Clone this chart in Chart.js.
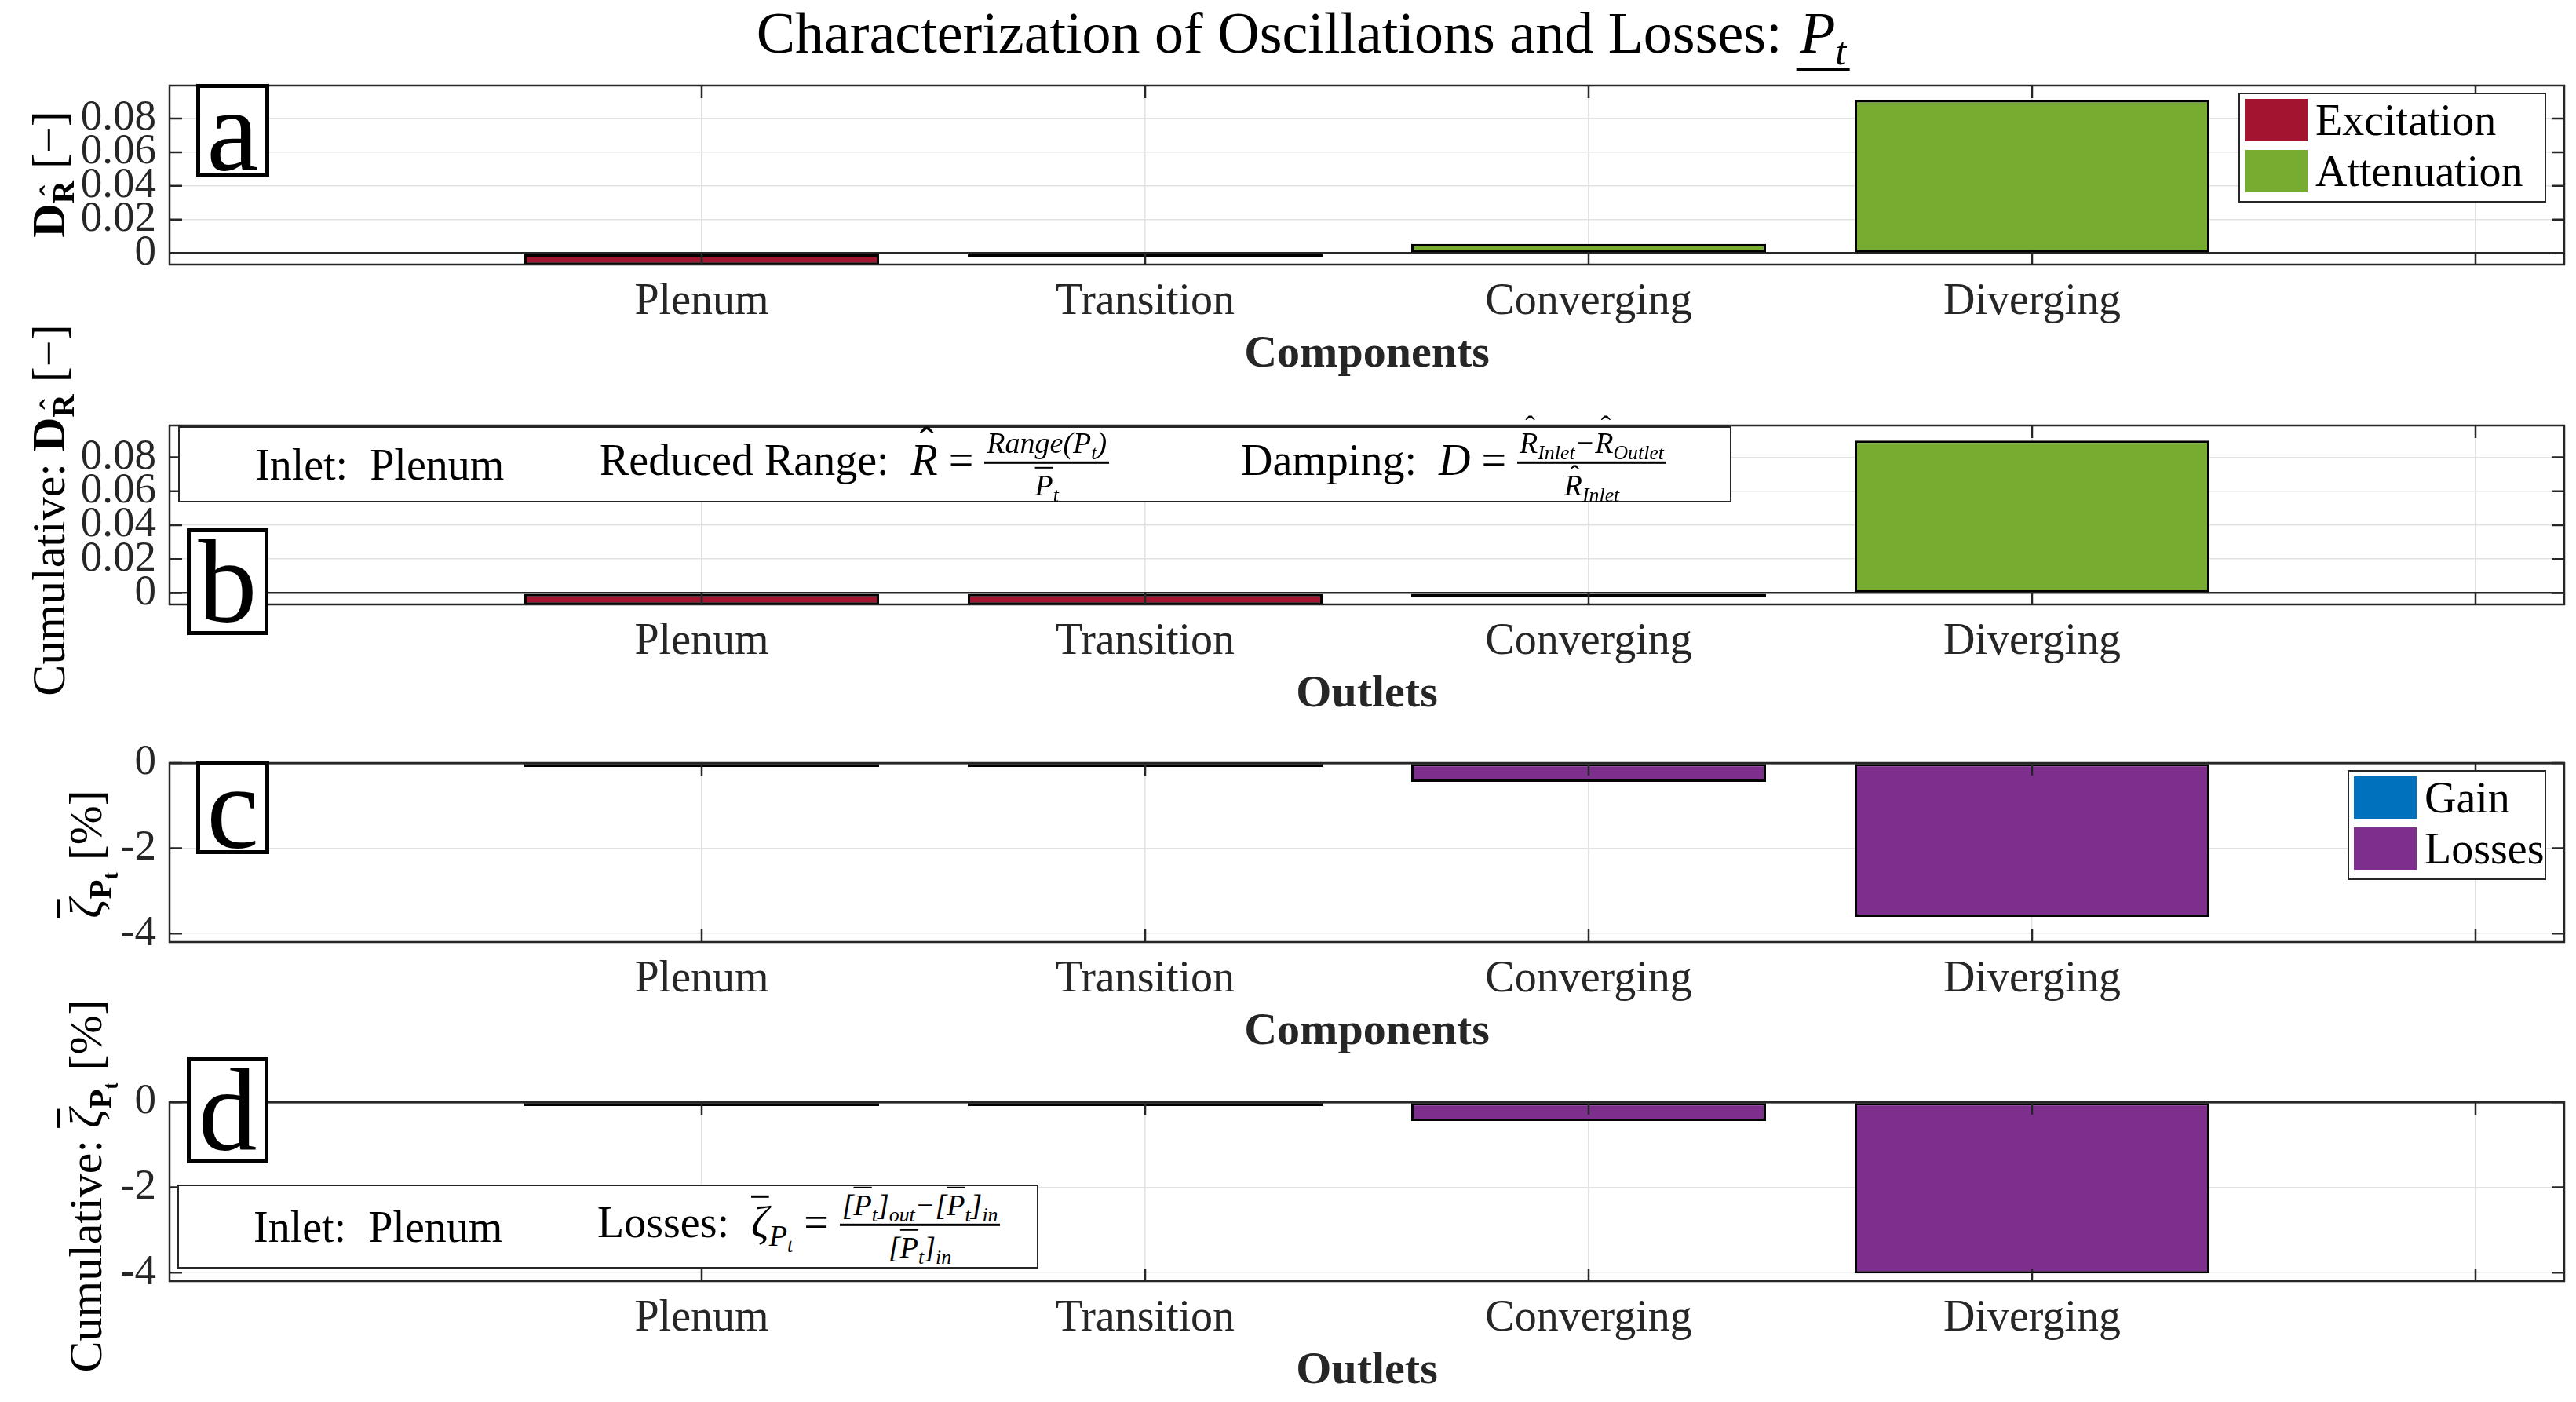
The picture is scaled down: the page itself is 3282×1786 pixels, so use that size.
<!DOCTYPE html>
<html>
<head>
<meta charset="utf-8">
<script src="https://cdn.jsdelivr.net/npm/chart.js@4.4.0/dist/chart.umd.min.js"></script>
<style>
body{margin:0;background:#fff;width:3282px;height:1786px;position:relative;overflow:hidden;font-family:"Liberation Serif","DejaVu Serif",serif;color:#000}
canvas{position:absolute;left:0}
.ov{position:absolute;white-space:nowrap;line-height:1}
.c{transform:translate(-50%,-50%)}
.rot{transform:translate(-50%,-50%) rotate(-90deg)}
i{font-style:italic}
sub{font-size:0.68em;vertical-align:-0.3em;line-height:0}
.hat{display:inline-block;position:relative}
.hat::after{content:"\02C6";position:absolute;left:0.1em;right:0;top:-0.38em;text-align:center;font-style:normal}
.frac .num .hat::after{top:-0.55em}
.frac .den .hat::after{top:-0.32em}
.ovl{text-decoration:overline;text-decoration-thickness:0.06em}
.tag{position:absolute;border:5px solid #000;background:#fff;box-sizing:border-box;display:flex;align-items:center;justify-content:center;font-size:150px;line-height:1}
.note{position:absolute;border:2.5px solid #262626;background:#fff;box-sizing:border-box;font-size:56px}
.note span.it{position:absolute;top:50%;transform:translateY(-50%);white-space:nowrap;line-height:1}
.frac{display:inline-flex;flex-direction:column;align-items:center;vertical-align:middle;font-size:38px;line-height:1.15;font-style:italic}
.frac .num{border-bottom:3px solid #000;padding:0 3px 2px}
.frac .den{padding-top:6px}
.legend{position:absolute;border:2.5px solid #262626;background:#fff;box-sizing:border-box;font-size:56px;padding:2px 6px}
.legend .row{display:flex;align-items:center;height:62px;margin-bottom:3px}
.legend .sw{width:80px;height:54px;margin-right:10px;flex:none}
</style>
</head>
<body>

<canvas id="panelA" width="3282" height="420" style="top:59px"></canvas>
<canvas id="panelB" width="3282" height="420" style="top:492px"></canvas>
<canvas id="panelC" width="3282" height="420" style="top:922px"></canvas>
<canvas id="panelD" width="3282" height="420" style="top:1354px"></canvas>

<div class="ov c" style="left:1660px;top:42px;font-size:74px">Characterization of Oscillations and Losses: <span style="border-bottom:3px solid #000;padding:0 4px 4px"><i>P</i><sub><i>t</i></sub></span></div>

<!-- y axis titles -->
<div class="ov rot" style="left:62px;top:222px;font-size:60px"><b>D</b><sub><b class="hat">R</b></sub> [&minus;]</div>
<div class="ov rot" style="left:62px;top:650px;font-size:60px">Cumulative: <b>D</b><sub><b class="hat">R</b></sub> [&minus;]</div>
<div class="ov rot" style="left:110px;top:1088px;font-size:60px"><i class="ovl">&zeta;</i><sub><b>P</b><sub><b>t</b></sub></sub> [%]</div>
<div class="ov rot" style="left:110px;top:1511px;font-size:60px">Cumulative: <i class="ovl">&zeta;</i><sub><b>P</b><sub><b>t</b></sub></sub> [%]</div>

<!-- panel tags -->
<div class="tag" style="left:250px;top:107px;width:93px;height:118px">a</div>
<div class="tag" style="left:238px;top:673px;width:104px;height:136px">b</div>
<div class="tag" style="left:250px;top:970px;width:93px;height:118px">c</div>
<div class="tag" style="left:238px;top:1346px;width:104px;height:136px">d</div>

<!-- text boxes -->
<div class="note" style="left:227px;top:543px;width:1979px;height:97px">
  <span class="it" style="left:96px">Inlet: &nbsp;Plenum</span>
  <span class="it" style="left:535px">Reduced Range: &nbsp;<i class="hat">R</i> = <span class="frac"><span class="num">Range(P<sub>t</sub>)</span><span class="den"><span class="ovl">P</span><sub>t</sub></span></span></span>
  <span class="it" style="left:1352px">Damping: &nbsp;<i>D</i> = <span class="frac"><span class="num"><span class="hat">R</span><sub>Inlet</sub>&minus;<span class="hat">R</span><sub>Outlet</sub></span><span class="den"><span class="hat">R</span><sub>Inlet</sub></span></span></span>
</div>
<div class="note" style="left:226px;top:1509px;width:1097px;height:107px">
  <span class="it" style="left:95px">Inlet: &nbsp;Plenum</span>
  <span class="it" style="left:533px">Losses: &nbsp;<i class="ovl">&zeta;</i><sub><i>P<sub>t</sub></i></sub> = <span class="frac"><span class="num">[<span class="ovl">P</span><sub>t</sub>]<sub>out</sub>&minus;[<span class="ovl">P</span><sub>t</sub>]<sub>in</sub></span><span class="den">[<span class="ovl">P</span><sub>t</sub>]<sub>in</sub></span></span></span>
</div>

<div class="legend" id="legendA" style="left:2852px;top:118px;width:392px;height:140px"></div>
<div class="legend" id="legendC" style="left:2991px;top:981px;width:253px;height:140px"></div>

<script>
// categories along x (bar positions 1..4, tick 5 left blank)
const categories = ['Plenum', 'Transition', 'Converging', 'Diverging'];
const catPos = [1, 2, 3, 4];
const xTicks = [1, 2, 3, 4, 5];

// a: damping per component
const dampExcitation = [-0.0068, -0.0001, null, null];
const dampAttenuation = [null, null, 0.0055, 0.0910];
// b: cumulative damping per outlet
const cumExcitation = [-0.0068, -0.0068, -0.0002, null];
const cumAttenuation = [null, null, null, 0.0898];
// c: losses per component [%]
const lossGain = [null, null, null, null];
const lossLosses = [0, 0, -0.44, -3.61];
// d: cumulative losses per outlet [%]
const cumGain = [null, null, null, null];
const cumLosses = [0, 0, -0.44, -4.02];

const dampTicks = [0, 0.02, 0.04, 0.06, 0.08];
const lossTicks = [-4, -2, 0];

const FONT = '"Liberation Serif", "DejaVu Serif", serif';
const AXIS = '#262626';
const GRID = '#e2e2e2';

// MATLAB style box + inner tick marks
const matlabBox = {
	id: 'matlabBox',
	afterDatasetsDraw(chart){
		const {ctx, chartArea: a, scales: {x, y}} = chart;
		const tl = 16;
		ctx.save();
		ctx.strokeStyle = AXIS;
		ctx.lineWidth = 2.5;
		ctx.beginPath();
		y.ticks.forEach(t => {
			const py = y.getPixelForValue(t.value);
			ctx.moveTo(a.left, py); ctx.lineTo(a.left + tl, py);
			ctx.moveTo(a.right, py); ctx.lineTo(a.right - tl, py);
		});
		x.ticks.forEach(t => {
			const px = x.getPixelForValue(t.value);
			ctx.moveTo(px, a.top); ctx.lineTo(px, a.top + tl);
			ctx.moveTo(px, a.bottom); ctx.lineTo(px, a.bottom - tl);
		});
		ctx.stroke();
		ctx.strokeRect(a.left, a.top, a.right - a.left, a.bottom - a.top);
		ctx.restore();
	}
};

function points(arr){
	return catPos.map((x, i) => ({x: x, y: arr[i]}));
}

function makePanel(id, sets, yMin, yMax, yTicks, xTitle){
	const ctx = document.getElementById(id).getContext('2d');
	return new Chart(ctx, {
		type: 'bar',
		data: {
			datasets: sets.map(s => ({
				label: s.label,
				data: points(s.data),
				backgroundColor: s.color,
				borderColor: '#000',
				borderWidth: 3,
				borderSkipped: false,
				minBarLength: 5,
				barPercentage: 0.8,
				categoryPercentage: 1,
				stack: 'one'
			}))
		},
		options: {
			responsive: false,
			animation: false,
			devicePixelRatio: 1,
			layout: {padding: {left: 0, right: 15, top: 40, bottom: 0}},
			plugins: {legend: {display: false}, tooltip: {enabled: false}},
			scales: {
				x: {
					type: 'linear', min: -0.2, max: 5.2, stacked: true, offset: false,
					afterBuildTicks: s => { s.ticks = xTicks.map(v => ({value: v})); },
					afterFit: s => { s.height = 142; },
					grid: {color: GRID, lineWidth: 1.5, drawTicks: false, offset: false},
					border: {display: false},
					ticks: {
						autoSkip: false, maxRotation: 0, padding: 15, color: AXIS,
						font: {family: FONT, size: 56},
						callback: v => categories[v - 1] || ''
					},
					title: {
						display: true, text: xTitle, color: AXIS,
						font: {family: FONT, size: 58, weight: 'bold', lineHeight: 0.93},
						padding: {top: 0, bottom: 0}
					}
				},
				y: {
					min: yMin, max: yMax, stacked: true,
					afterBuildTicks: s => { s.ticks = yTicks.map(v => ({value: v})); },
					afterFit: s => { s.width = 216; },
					grid: {
						color: c => (c.tick && c.tick.value === 0) ? AXIS : GRID,
						lineWidth: c => (c.tick && c.tick.value === 0) ? 2.5 : 1.5,
						drawTicks: false
					},
					border: {display: false},
					ticks: {
						autoSkip: false, padding: 17, color: AXIS,
						font: {family: FONT, size: 55},
						callback: v => String(v)
					}
				}
			}
		},
		plugins: [matlabBox]
	});
}

const chartA = makePanel('panelA', [
	{label: 'Excitation', data: dampExcitation, color: '#A2142F'},
	{label: 'Attenuation', data: dampAttenuation, color: '#77AC30'}
], -0.0067, 0.0996, dampTicks, 'Components');

const chartB = makePanel('panelB', [
	{label: 'Excitation', data: cumExcitation, color: '#A2142F'},
	{label: 'Attenuation', data: cumAttenuation, color: '#77AC30'}
], -0.0067, 0.0987, dampTicks, 'Outlets');

const chartC = makePanel('panelC', [
	{label: 'Gain', data: lossGain, color: '#0072BD'},
	{label: 'Losses', data: lossLosses, color: '#7E2F8E'}
], -4.2, 0, lossTicks, 'Components');

const chartD = makePanel('panelD', [
	{label: 'Gain', data: cumGain, color: '#0072BD'},
	{label: 'Losses', data: cumLosses, color: '#7E2F8E'}
], -4.2, 0, lossTicks, 'Outlets');

// legends built from the chart datasets
function buildLegend(chart, elId){
	const el = document.getElementById(elId);
	chart.data.datasets.forEach(ds => {
		const row = document.createElement('div');
		row.className = 'row';
		const sw = document.createElement('span');
		sw.className = 'sw';
		sw.style.background = ds.backgroundColor;
		row.appendChild(sw);
		row.appendChild(document.createTextNode(ds.label));
		el.appendChild(row);
	});
}
buildLegend(chartA, 'legendA');
buildLegend(chartC, 'legendC');
</script>
</body>
</html>
